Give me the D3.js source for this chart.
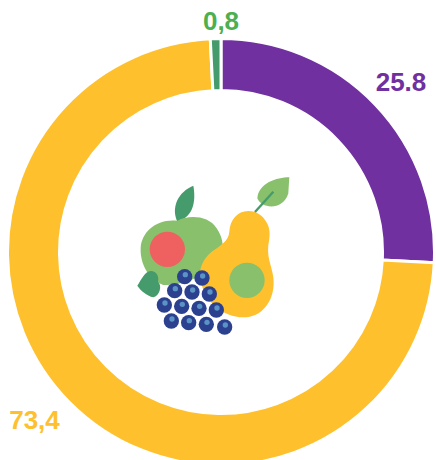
<!DOCTYPE html>
<html>
<head>
<meta charset="utf-8">
<script src="https://cdn.jsdelivr.net/npm/d3@7"></script>
<style>html,body{margin:0;padding:0;background:#fff;overflow:hidden}svg{display:block}</style>
</head>
<body>
<svg id="c" width="436" height="460"></svg>
<script>
const categories = ["Purple", "Yellow", "Green"];
const values = [25.8, 73.4, 0.8];
const labels = ["25.8", "73,4", "0,8"];
const colors = ["#7030a0", "#fec02d", "#459b6b"];
const labelColors = ["#7030a0", "#fec02d", "#4caf50"];
const labelPos = [[401, 91], [34.5, 429], [221, 30]];

const svg = d3.select("#c");
const g = svg.append("g").attr("transform", "translate(221,252)");
const pie = d3.pie().sort(null)(values);
const arc = d3.arc().innerRadius(161.5).outerRadius(213.5);
g.selectAll("path").data(pie).join("path")
  .attr("d", arc)
  .attr("fill", (d, i) => colors[i])
  .attr("stroke", "#fff")
  .attr("stroke-width", 3);

svg.selectAll("text").data(labels).join("text")
  .attr("x", (d, i) => labelPos[i][0])
  .attr("y", (d, i) => labelPos[i][1])
  .attr("text-anchor", "middle")
  .attr("font-family", "Liberation Sans, Arial, sans-serif")
  .attr("font-weight", "bold")
  .attr("font-size", 26)
  .attr("fill", (d, i) => labelColors[i])
  .text(d => d);

// Fruit illustration
const icon = svg.append("g").attr("transform", "translate(120,170) scale(0.3333)");
const shapes = [
  ["M172,155C152,112 175,65 220,47C228,90 222,140 172,155Z", "#459b6b"],
  ["M172,152C205,135 265,135 290,175C306,198 312,225 306,250C290,300 200,350 130,345C85,330 60,280 62,235C64,185 110,145 172,152Z", "#88c06c"],
  ["M52,347C65,327 75,304 92,303C110,303 118,320 114,335C128,348 118,378 100,382C80,377 62,362 52,347Z", "#459b6b"],
  ["M385,123C352,123 330,150 328,185C326,215 298,228 275,245C250,265 234,297 242,330C252,395 310,442 370,442C425,442 462,395 461,335C460,295 440,270 445,225C452,190 450,170 435,150C425,133 405,123 385,123Z", "#fec02d"],
  ["M508,22C470,22 415,40 412,85C425,118 490,122 505,70Z", "#88c06c"]
];
icon.selectAll("path.s").data(shapes).join("path").attr("class", "s")
  .attr("d", d => d[0]).attr("fill", d => d[1]);
icon.append("line").attr("x1", 405).attr("y1", 126).attr("x2", 460).attr("y2", 65)
  .attr("stroke", "#459b6b").attr("stroke-width", 7);
icon.append("circle").attr("cx", 142).attr("cy", 238).attr("r", 53).attr("fill", "#ee6160");
icon.append("circle").attr("cx", 381).attr("cy", 331).attr("r", 53).attr("fill", "#88c06c");
const grapes = [[194,320],[246,324],[164,362],[216,366],[268,372],[133,405],[185,409],[237,415],[289,420],[154,453],[206,458],[259,463],[314,471]];
icon.selectAll("circle.g").data(grapes).join("circle").attr("class", "g")
  .attr("cx", d => d[0]).attr("cy", d => d[1]).attr("r", 23).attr("fill", "#2b4190");
icon.selectAll("circle.h").data(grapes).join("circle").attr("class", "h")
  .attr("cx", d => d[0] + 2).attr("cy", d => d[1] - 6).attr("r", 8).attr("fill", "#5a93c4");
</script>
</body>
</html>
